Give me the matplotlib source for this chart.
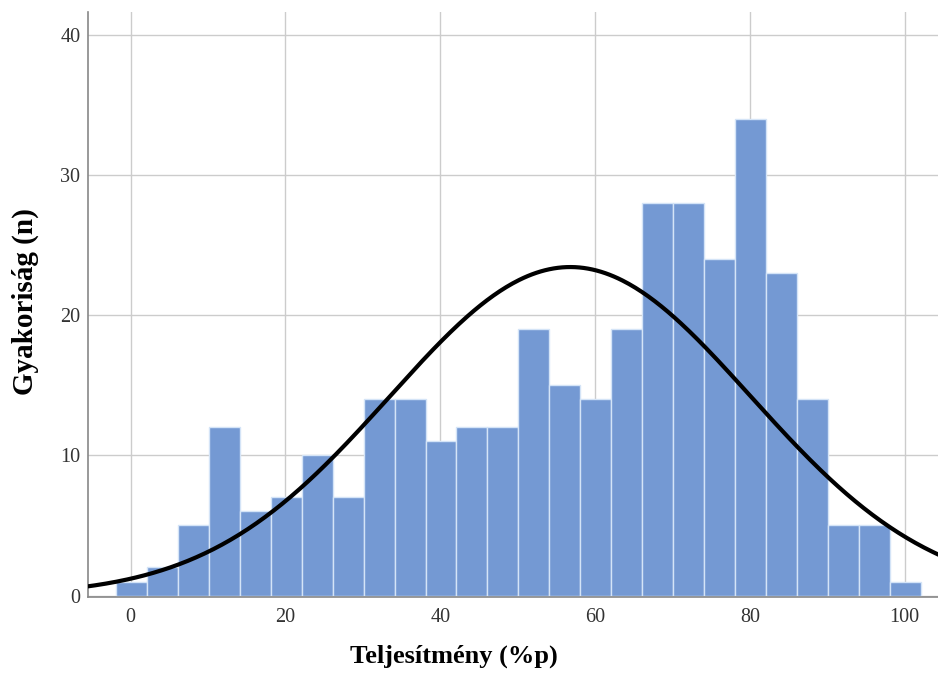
import numpy as np
import matplotlib.pyplot as plt

plt.rcParams['font.family'] = ['Liberation Serif', 'DejaVu Serif']

# histogram counts per bin (bin width 4)
bin_start = -1.9
bin_width = 4.0
counts = [1, 2, 5, 12, 6, 7, 10, 7, 14, 14, 11, 12, 12, 19, 15, 14, 19, 28, 28, 24, 34, 23, 14, 5, 5, 1]

# fitted normal curve parameters
mean = 56.8
sd = 23.3

x_ticks = [0, 20, 40, 60, 80, 100]
y_ticks = [0, 10, 20, 30, 40]

edges = bin_start + bin_width * np.arange(len(counts) + 1)
n = sum(counts)

fig = plt.figure(figsize=(9.38, 6.73), dpi=100)
ax = fig.add_axes([0.0938, 0.113, 0.9062, 0.869])

ax.bar(edges[:-1], counts, width=bin_width, align='edge',
       color='#7499d3', edgecolor='#d4e4f7', linewidth=1.0, zorder=2)

xs = np.linspace(-6, 105, 400)
ys = n * bin_width / (sd * np.sqrt(2 * np.pi)) * np.exp(-0.5 * ((xs - mean) / sd) ** 2)
ax.plot(xs, ys, color='black', linewidth=3, zorder=3)

ax.set_xlim(-5.5, 104.3)
ax.set_ylim(-0.1, 41.6)
ax.set_xticks(x_ticks)
ax.set_yticks(y_ticks)
ax.grid(True, color='#cccccc', linewidth=1.0, zorder=0)
ax.set_axisbelow(True)

for side in ['top', 'right']:
    ax.spines[side].set_visible(False)
for side in ['left', 'bottom']:
    ax.spines[side].set_color('#888888')
    ax.spines[side].set_linewidth(1.2)

ax.tick_params(length=0, labelsize=14.5, colors='#333333')
ax.tick_params(axis='x', pad=8)
ax.tick_params(axis='y', pad=5.5)
ax.set_xlabel('Teljesítmény (%p)', fontsize=19, fontweight='bold')
ax.set_ylabel('Gyakoriság (n)', fontsize=21, fontweight='bold')
ax.xaxis.set_label_coords(0.43, -0.082)
ax.yaxis.set_label_coords(-0.058, 0.505)

fig.savefig('out.png', dpi=100)
